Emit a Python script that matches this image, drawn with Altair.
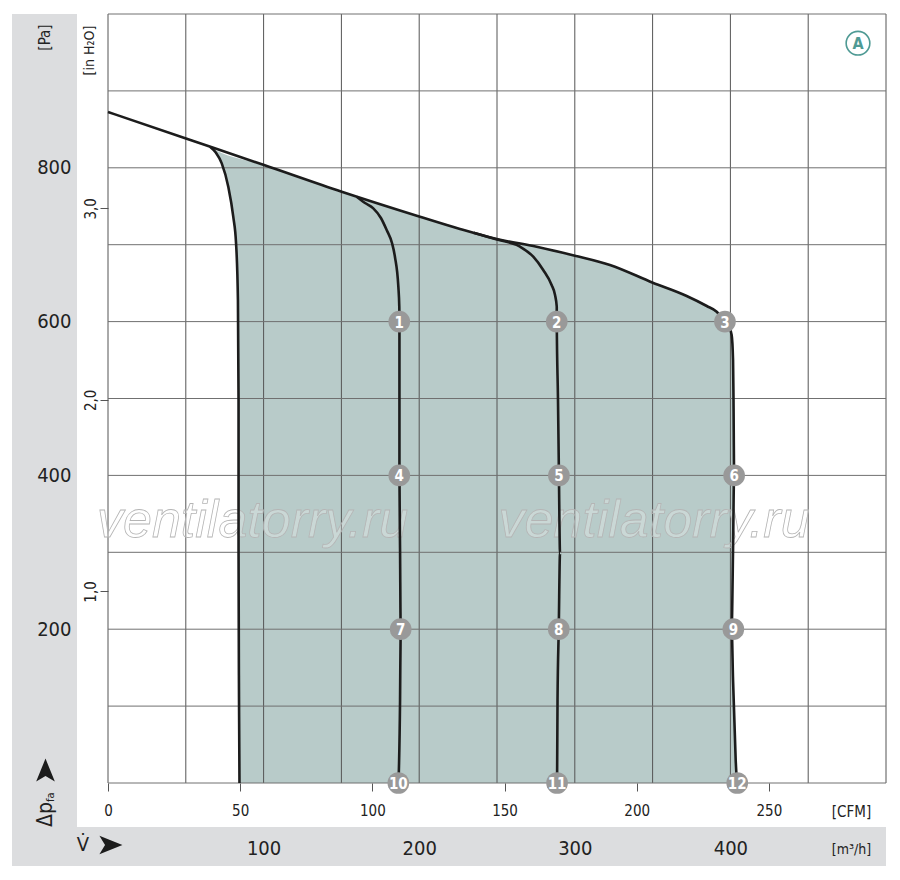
import altair as alt
import pandas as pd

FONT = "Liberation Sans Narrow, DejaVu Sans Condensed, Roboto, sans-serif"
W, H = 778, 769
Q_MAX, P_MAX = 500, 1000
CFM_TO_M3H = 1.69901
PA_PER_INH2O = 249.09

# ---- characteristic curves (flow in m3/h, static pressure in Pa) ----
ENV_Q = [0, 50.1, 100.3, 150.2, 200.5, 226.2, 249.8, 275.5, 300.1, 322.6, 350.1, 371.9, 384.8,
         391.2, 396.5, 399.1, 400.8, 401.7, 402.0, 402.4, 401.7, 400.8, 401.7, 403.4, 404.2]
ENV_P = [872.6, 838.1, 803.6, 768.9, 736.4, 720.5, 707.4, 697.4, 685.7, 673.6, 650.6, 633.3, 620.3,
         612.9, 599.9, 593.0, 582.6, 550.0, 498.0, 403.0, 303.0, 201.6, 134.0, 29.9, 0]

A_Q = [65.6, 69.4, 73.1, 77.3, 80.5, 82.3, 83.5, 83.9, 83.9, 84.2, 84.5]
A_P = [827.4, 819.5, 805.8, 775.4, 736.4, 701.8, 628.0, 498.0, 303.0, 108.0, 0]

B_Q = [159.8, 165.2, 170.5, 175.4, 179.1, 182.5, 184.4, 186.6, 187.2, 187.3, 187.3, 187.3,
       187.7, 188.1, 187.7, 186.7]
B_P = [762.4, 754.2, 747.3, 734.7, 719.1, 702.2, 684.4, 645.4, 619.4, 600.0, 498.0, 403.0,
       303.0, 201.6, 108.0, 0]

C_Q = [235.0, 250.0, 264.8, 273.3, 279.7, 285.1, 287.3, 288.4, 288.4, 289.2, 289.8,
       290.5, 289.7, 288.9, 288.6]
C_P = [715.6, 706.8, 697.4, 684.4, 667.1, 647.6, 634.6, 619.4, 600.0, 498.0, 400.5,
       299.0, 201.6, 108.0, 0]

# ---- numbered operating points ----
MK_LABEL = ["1", "2", "3", "4", "5", "6", "7", "8", "9", "10", "11", "12"]
MK_Q = [187.2, 288.4, 396.5, 187.2, 289.8, 402.4, 188.1, 289.7, 401.9, 186.6, 288.6, 404.4]
MK_P = [600, 600, 600, 400, 400, 400, 200, 200, 200, 0, 0, 0]

# ---- axes ----
GRID_Q = [0, 50, 100, 150, 200, 250, 300, 350, 400, 450, 500]
GRID_P = [0, 100, 200, 300, 400, 500, 600, 700, 800, 900, 1000]
M3H_LABELS = [100, 200, 300, 400]
CFM_TICKS = [0, 50, 100, 150, 200, 250]
PA_LABELS = [200, 400, 600, 800]
INH2O_TICKS = [1.0, 2.0, 3.0]

WATERMARK = ["ventilatorry.ru", "ventilatorry.ru"]
WM_Q = [92.9, 350.9]
WM_P = [320, 320]

BADGE_Q, BADGE_P = [482.0], [962.0]

XS = alt.Scale(domain=[0, Q_MAX], nice=False, zero=False)
YS = alt.Scale(domain=[0, P_MAX], nice=False, zero=False)


def frame(q, p, **extra):
    d = pd.DataFrame({"q": q, "p": p})
    d["i"] = range(len(d))
    for k, v in extra.items():
        d[k] = v
    return d


curves = pd.concat([
    frame(ENV_Q, ENV_P, curve="env"),
    frame(A_Q, A_P, curve="a"),
    frame(B_Q, B_P, curve="b"),
    frame(C_Q, C_P, curve="c"),
], ignore_index=True)

# fill polygon: left curve upward, then envelope to the right and down
poly_q = list(reversed(A_Q)) + [q for q in ENV_Q if q > A_Q[0]]
poly_p = list(reversed(A_P)) + [p for q, p in zip(ENV_Q, ENV_P) if q > A_Q[0]]
poly = frame(poly_q, poly_p)

markers = pd.DataFrame({"q": MK_Q, "p": MK_P, "label": MK_LABEL})
one = pd.DataFrame({"k": [0]})

# grey bands (decoration outside the plot)
band_left = alt.Chart(one).mark_rect(color="#dcdddf").encode(
    x=alt.value(-96), x2=alt.value(-31), y=alt.value(0), y2=alt.value(852))
band_bottom = alt.Chart(one).mark_rect(color="#dcdddf").encode(
    x=alt.value(-96), x2=alt.value(W), y=alt.value(813), y2=alt.value(852))

fill = alt.Chart(poly).mark_line(fill="#b8cbc9", strokeWidth=0, interpolate="monotone").encode(
    x=alt.X("q:Q", scale=XS, axis=None),
    y=alt.Y("p:Q", scale=YS, axis=None),
    order=alt.Order("i:Q"),
)

vgrid = alt.Chart(pd.DataFrame({"q": GRID_Q})).mark_rule(color="#555555", strokeWidth=1).encode(
    x=alt.X("q:Q", scale=XS, axis=alt.Axis(
        orient="bottom", values=M3H_LABELS, domain=False, ticks=False, tickSize=0, grid=False,
        labelPadding=65, labelBaseline="middle", labelFontSize=20, labelFont=FONT,
        labelColor="#222222", labelFlush=False, labelOverlap=False,
        title="[m³/h]", titleX=743, titleY=66, titleFontSize=14, titleFont=FONT,
        titleFontWeight="normal", titleAlign="center", titleBaseline="middle",
        titleColor="#222222", zindex=1)),
)

hgrid = alt.Chart(pd.DataFrame({"p": GRID_P})).mark_rule(color="#707070", strokeWidth=1).encode(
    y=alt.Y("p:Q", scale=YS, axis=alt.Axis(
        orient="left", values=PA_LABELS, domain=False, ticks=False, tickSize=0, grid=False,
        labelPadding=37, labelBaseline="middle", labelAlign="right", labelFontSize=20,
        labelFont=FONT, labelColor="#222222", labelFlush=False, labelOverlap=False,
        title="[Pa]", titleAngle=270, titleX=-64, titleY=23, titleFontSize=15,
        titleFont=FONT, titleFontWeight="normal", titleAlign="center",
        titleBaseline="middle", titleColor="#222222", zindex=1)),
)

watermark = alt.Chart(pd.DataFrame({"q": WM_Q, "p": WM_P, "t": WATERMARK})).mark_text(
    font="Liberation Sans, Arial, sans-serif", fontSize=52, fontStyle="italic",
    fill="#ffffff", fillOpacity=0.25, stroke="#b5b5b5", strokeWidth=0.8,
    align="center", baseline="alphabetic").encode(
    x=alt.X("q:Q", scale=XS, axis=None),
    y=alt.Y("p:Q", scale=YS, axis=None),
    text="t:N",
)

lines = alt.Chart(curves).mark_line(color="#1c1c1c", strokeWidth=2.6, interpolate="monotone").encode(
    x=alt.X("q:Q", scale=XS, axis=alt.Axis(
        orient="bottom", values=[c * CFM_TO_M3H for c in CFM_TICKS],
        labelExpr="format(datum.value / 1.69901, '.0f')",
        domain=False, ticks=True, tickSize=8, tickColor="#555555", grid=False,
        labelPadding=19, labelBaseline="middle", labelFontSize=15, labelFont=FONT,
        labelColor="#222222", labelFlush=False, labelOverlap=False,
        title="[CFM]", titleX=743, titleY=28, titleFontSize=15, titleFont=FONT,
        titleFontWeight="normal", titleAlign="center", titleBaseline="middle",
        titleColor="#222222", zindex=1)),
    y=alt.Y("p:Q", scale=YS, axis=alt.Axis(
        orient="left", values=[v * PA_PER_INH2O for v in INH2O_TICKS],
        labelExpr="replace(format(datum.value / 249.09, '.1f'), '.', ',')",
        domain=False, ticks=True, tickSize=8, tickColor="#555555", grid=False,
        labelAngle=270, labelAlign="center", labelBaseline="bottom", labelPadding=2,
        labelFontSize=15, labelFont=FONT, labelColor="#222222",
        labelFlush=False, labelOverlap=False,
        title="[in H₂O]", titleAngle=270, titleX=-19, titleY=36, titleFontSize=14,
        titleFont=FONT, titleFontWeight="normal", titleAlign="center",
        titleBaseline="middle", titleColor="#222222", zindex=1)),
    detail="curve:N",
    order=alt.Order("i:Q"),
)

dots = alt.Chart(markers).mark_point(shape="circle", filled=True, size=470,
                                     color="#999999", opacity=1).encode(
    x=alt.X("q:Q", scale=XS, axis=None),
    y=alt.Y("p:Q", scale=YS, axis=None),
)
dot_labels = alt.Chart(markers).mark_text(font=FONT, fontSize=15, fontWeight="bold",
                                          color="#ffffff", align="center",
                                          baseline="middle", dy=1).encode(
    x=alt.X("q:Q", scale=XS, axis=None),
    y=alt.Y("p:Q", scale=YS, axis=None),
    text="label:N",
)

badge_df = pd.DataFrame({"q": BADGE_Q, "p": BADGE_P, "t": ["A"]})
badge = alt.Chart(badge_df).mark_point(shape="circle", filled=False, size=560,
                                       color="#4f9a94", strokeWidth=1.6, opacity=1).encode(
    x=alt.X("q:Q", scale=XS, axis=None),
    y=alt.Y("p:Q", scale=YS, axis=None),
)
badge_t = alt.Chart(badge_df).mark_text(font=FONT, fontSize=16, fontWeight="bold",
                                        color="#4f9a94", align="center",
                                        baseline="middle", dy=1).encode(
    x=alt.X("q:Q", scale=XS, axis=None),
    y=alt.Y("p:Q", scale=YS, axis=None),
    text="t:N",
)


def label(text, x, y, size, angle=0, align="center", baseline="middle",
          font=FONT, weight="normal"):
    kw = dict(text=text, fontSize=size, font=font, fontWeight=weight,
              color="#222222", align=align, baseline=baseline)
    if angle:
        kw["angle"] = angle
    return alt.Chart(one).mark_text(**kw).encode(x=alt.value(x), y=alt.value(y))


ARROW_UP = "M0,-1 L0.75,0.85 L0,0.4 L-0.75,0.85 Z"
ARROW_RIGHT = "M1,0 L-0.85,0.75 L-0.4,0 L-0.85,-0.75 Z"


def arrow(path, x, y):
    return alt.Chart(one).mark_point(shape=path, filled=True, size=620,
                                     color="#1c1c1c", opacity=1).encode(
        x=alt.value(x), y=alt.value(y))


deco = [
    label("Δp", -62.5, 813, 21, angle=270, align="left"),
    label("fa", -57, 788, 11, angle=270, align="left"),
    arrow(ARROW_UP, -62.5, 757),
    label("V̇", -25, 831, 20),
    arrow(ARROW_RIGHT, 2, 831),
]

chart = alt.layer(
    band_left, band_bottom, fill, vgrid, hgrid, watermark, lines, dots, dot_labels,
    badge, badge_t, *deco
).resolve_axis(x="independent", y="independent").properties(
    width=W, height=H,
    autosize=alt.AutoSizeParams(type="none"),
    padding={"left": 100, "top": 6, "right": 2, "bottom": 84},
).configure_view(strokeWidth=0)

chart.save("out.html", embed_options={"renderer": "svg", "actions": False})
